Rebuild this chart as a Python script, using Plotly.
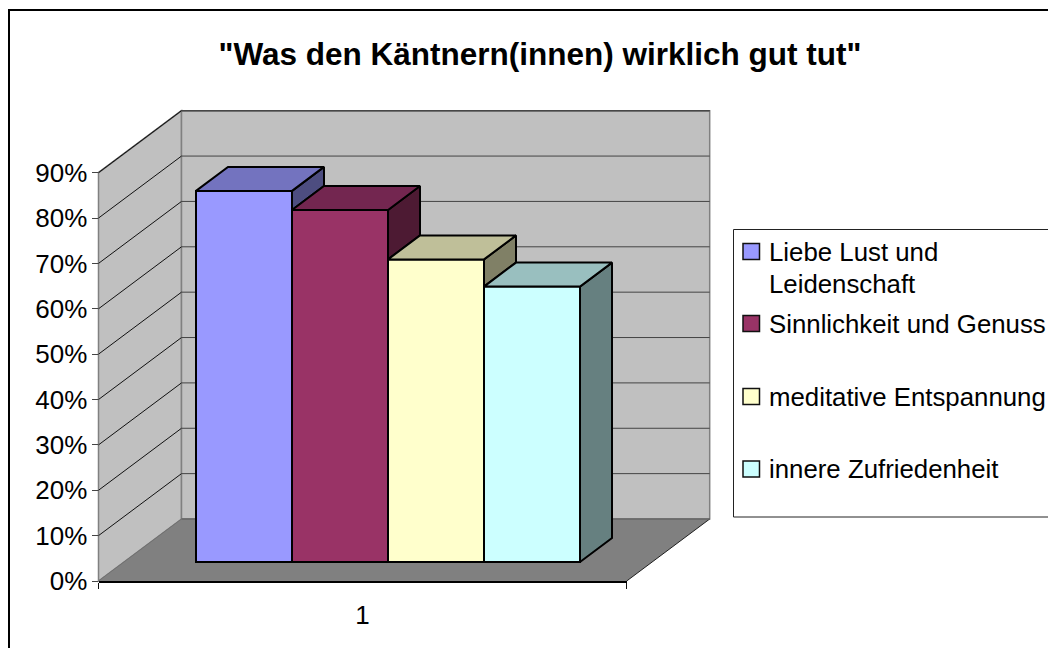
import plotly.graph_objects as go

TITLE = '"Was den Käntnern(innen) wirklich gut tut"'
CATEGORY = ["1"]
SERIES = ["Liebe Lust und<br>Leidenschaft", "Sinnlichkeit und Genuss", "meditative Entspannung", "innere Zufriedenheit"]
VALUES = [0.818, 0.776, 0.667, 0.607]
COLORS = ["#9999FF", "#993366", "#FFFFCC", "#CCFFFF"]
TOPS = ["#7373BF", "#732650", "#BFBF99", "#99BFBF"]
SIDES = ["#4D4D80", "#4D1A33", "#808066", "#668080"]
TICKS = [i / 10 for i in range(10)]

W, H = 1048, 648
FONT = "Liberation Sans, Arial, sans-serif"
X0, X1, Y0, Y90 = 98.5, 626.7, 581.0, 172.7
PX_X = 1 / (X1 - X0)
PX_Y = 0.9 / (Y0 - Y90)
Y_MAX = 1.0
FLOOR_DX, FLOOR_DY = 83.0, 62.0
BAR_DX, BAR_DY = 32.0, 24.0
BAR_LEFT = (196 - X0) * PX_X
BAR_W = 96 * PX_X
BASE = (Y0 - 562) * PX_Y


def xp(x):
    return (X0 + x / PX_X) / W


def yp(v):
    return 1 - (Y0 - v / PX_Y) / H


def px(x):
    return x / W


def py(y):
    return 1 - y / H


def poly(points, fill, line=None, lw=1, layer="below"):
    d = "M" + " L".join(f"{a:.5f},{b:.5f}" for a, b in points) + " Z"
    return dict(type="path", xref="paper", yref="paper", path=d, fillcolor=fill, layer=layer,
                line=dict(color=line or "rgba(0,0,0,0)", width=lw))


def seg(x0, y0, x1, y1, color, lw=1):
    return dict(type="line", xref="paper", yref="paper", x0=x0, y0=y0, x1=x1, y1=y1,
                layer="below", line=dict(color=color, width=lw))


ddx, ddy = FLOOR_DX / W, FLOOR_DY / H
shapes = [
    # chart frame
    dict(type="rect", xref="paper", yref="paper", x0=px(9), x1=px(1100), y0=py(10), y1=py(720),
         fillcolor="white", layer="below", line=dict(color="black", width=2)),
    # floor
    poly([(xp(0), yp(0)), (xp(1), yp(0)), (xp(1) + ddx, yp(0) + ddy), (xp(0) + ddx, yp(0) + ddy)], "#808080"),
    # left wall
    poly([(xp(0), yp(0)), (xp(0) + ddx, yp(0) + ddy), (xp(0) + ddx, yp(0.9) + ddy), (xp(0), yp(0.9))],
         "#C0C0C0", "#808080", 1.5),
    # back wall
    poly([(xp(0) + ddx, yp(0) + ddy), (xp(1) + ddx, yp(0) + ddy), (xp(1) + ddx, yp(0.9) + ddy), (xp(0) + ddx, yp(0.9) + ddy)],
         "#C0C0C0", "#808080", 1.5),
    seg(xp(0), yp(0), xp(0) + ddx, yp(0) + ddy, "#707070", 1),
    seg(xp(1), yp(0), xp(1) + ddx, yp(0) + ddy, "#202020", 1),
    seg(xp(0) + ddx, yp(0) + ddy, xp(1) + ddx, yp(0) + ddy, "#666666", 1.5),
    seg(xp(0), yp(0.9), xp(0) + ddx, yp(0.9) + ddy, "#707070", 1.5),
    seg(xp(0) + ddx, yp(0.9) + ddy, xp(1) + ddx, yp(0.9) + ddy, "#555555", 1.5),
]
for t in TICKS[1:]:
    shapes.append(seg(xp(0), yp(t), xp(0) + ddx, yp(t) + ddy, "#111111", 1))
    shapes.append(seg(xp(0) + ddx, yp(t) + ddy, xp(1) + ddx, yp(t) + ddy, "#444444", 1))

fig = go.Figure()
dbx, dby = BAR_DX * PX_X, BAR_DY * PX_Y
for i, (name, v) in enumerate(zip(SERIES, VALUES)):
    left = BAR_LEFT + i * BAR_W
    fig.add_trace(go.Bar(
        x=[0.5], y=[v], base=[BASE], width=[BAR_W], offset=left - 0.5, name=name.replace("<br>", " "),
        marker=dict(color=COLORS[i], line=dict(color="black", width=2)),
        cliponaxis=False, showlegend=False, hoverinfo="skip"))
for i, v in enumerate(VALUES):
    left = BAR_LEFT + i * BAR_W
    right = left + BAR_W
    top = BASE + v
    # the side face stays visible down to the top edge of the next, shorter bar
    low = BASE + VALUES[i + 1] if i + 1 < len(VALUES) else BASE
    fig.add_trace(go.Scatter(
        x=[right, right + dbx, right + dbx, right, right],
        y=[top, top + dby, low + dby, low, top],
        mode="lines", fill="toself", fillcolor=SIDES[i], line=dict(color="black", width=2),
        cliponaxis=False, showlegend=False, hoverinfo="skip"))
    fig.add_trace(go.Scatter(
        x=[left, left + dbx, right + dbx, right, left],
        y=[top, top + dby, top + dby, top, top],
        mode="lines", fill="toself", fillcolor=TOPS[i], line=dict(color="black", width=2),
        cliponaxis=False, showlegend=False, hoverinfo="skip"))

# legend
shapes.append(dict(type="rect", xref="paper", yref="paper", x0=px(733.5), x1=px(1100), y0=py(229.5), y1=py(517),
                   fillcolor="white", layer="below", line=dict(color="#222222", width=1)))
LEG_Y = [251.5, 323.5, 396.5, 469]
annotations = []
for name, c, y in zip(SERIES, COLORS, LEG_Y):
    shapes.append(dict(type="rect", xref="paper", yref="paper", x0=px(743), x1=px(759.5), y0=py(y - 8), y1=py(y + 8),
                       fillcolor=c, layer="above", line=dict(color="#111111", width=1.5)))
    for j, line in enumerate(name.split("<br>")):
        annotations.append(dict(xref="paper", yref="paper", x=px(767.5), y=py(y - 14.5 + 31.6 * j),
                                xanchor="left", yanchor="top", text=line, showarrow=False, align="left", borderpad=0,
                                font=dict(family=FONT, size=25.8, color="black")))

fig.update_layout(
    width=W, height=H, margin=dict(l=0, r=0, t=0, b=0, autoexpand=False), autosize=False,
    paper_bgcolor="white", plot_bgcolor="rgba(0,0,0,0)", barmode="overlay", showlegend=False,
    font=dict(family=FONT, size=26, color="black"),
    title=dict(text=f"<b>{TITLE}</b>", x=540 / W, xanchor="center", y=1 - 54 / H, yanchor="middle",
               font=dict(family=FONT, size=31.5, color="black")),
    shapes=shapes, annotations=annotations,
    xaxis=dict(domain=[X0 / W, X1 / W], range=[0, 1], tickmode="array", tickvals=[0.5], ticktext=CATEGORY,
               ticks="outside", ticklen=10, tickcolor="rgba(0,0,0,0)", showgrid=False, zeroline=False,
               showline=True, linecolor="black", linewidth=1.5,
               minor=dict(tickmode="array", tickvals=[0, 1], ticks="outside", ticklen=6, tickcolor="#111111",
                          tickwidth=1, showgrid=False)),
    yaxis=dict(domain=[1 - Y0 / H, 1 - (Y0 - Y_MAX / PX_Y) / H], range=[0, Y_MAX], tickmode="array", tickvals=TICKS,
               tickformat=".0%", ticks="outside", ticklen=6, tickcolor="#444444", tickwidth=1, ticklabelstandoff=-1,
               showgrid=False, zeroline=False, showline=False),
)
fig.write_html("out.html", config=dict(displayModeBar=False), post_script="document.body.style.margin='0';")
